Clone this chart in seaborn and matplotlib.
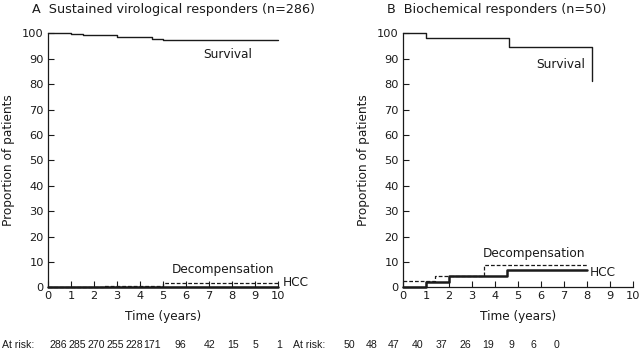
import matplotlib
matplotlib.use("Agg")
import matplotlib.pyplot as plt
import seaborn as sns
import pandas as pd

# ---------------- data ----------------
# Panel A: sustained virological responders
a_surv_t = [0, 1.0, 1.5, 3.0, 4.5, 5.0, 10.0]
a_surv_v = [100, 99.7, 99.2, 98.7, 97.9, 97.2, 97.2]
a_dec_t = [0, 2.4, 5.0, 10.0]
a_dec_v = [0, 0.7, 1.7, 1.7]
a_hcc_t = [0, 10.0]
a_hcc_v = [0, 0]
a_risk = ["286", "285", "270", "255", "228", "171", "96", "42", "15", "5", "1"]

# Panel B: biochemical responders
b_surv_t = [0, 1.0, 4.6, 8.2]
b_surv_v = [100, 98, 94.8, 81.3]
b_dec_t = [0, 1.4, 3.5, 8.0]
b_dec_v = [2.5, 4.6, 8.8, 8.8]
b_hcc_t = [0, 1.0, 2.0, 4.5, 8.0]
b_hcc_v = [0, 2.2, 4.4, 7.0, 7.0]
b_risk = ["50", "48", "47", "40", "37", "26", "19", "9", "6", "0"]

titles = ["A  Sustained virological responders (n=286)",
          "B  Biochemical responders (n=50)"]
xticks = list(range(0, 11))
yticks = list(range(0, 101, 10))

# ---------------- style ----------------
sns.set_theme(style="ticks")
plt.rcParams['font.family'] = ['DejaVu Sans']
FS = 8.2
LC = "#1a1a1a"

W, H = 640, 352
fig = plt.figure(figsize=(W / 100, H / 100), dpi=100)

def px_box(l, r, b, t):
    return [l / W, 1 - b / H, (r - l) / W, (b - t) / H]

axA = fig.add_axes(px_box(48, 278, 287.3, 33.3))
axB = fig.add_axes(px_box(403, 633, 287.3, 33.3))

def draw(ax, surv, dec, hcc):
    ds = pd.DataFrame({"t": surv[0], "v": surv[1]})
    dd = pd.DataFrame({"t": dec[0], "v": dec[1]})
    dh = pd.DataFrame({"t": hcc[0], "v": hcc[1]})
    sns.lineplot(data=dh, x="t", y="v", ax=ax, drawstyle="steps-post",
                 color=LC, lw=1.8, clip_on=False, zorder=4)
    sns.lineplot(data=dd, x="t", y="v", ax=ax, drawstyle="steps-post",
                 color=LC, lw=0.9, ls=(0, (3, 1.6)), clip_on=False, zorder=5)
    sns.lineplot(data=ds, x="t", y="v", ax=ax, drawstyle="steps-post",
                 color=LC, lw=1.0, clip_on=False, zorder=5)
    ax.set_xlim(0, 10)
    ax.set_ylim(0, 100)
    ax.set_xticks(xticks)
    ax.set_yticks(yticks)
    ax.tick_params(direction="in", length=4, width=0.8, colors=LC,
                   labelsize=FS, pad=3, labelcolor=LC)
    sns.despine(ax=ax)
    for s in ("left", "bottom"):
        ax.spines[s].set_linewidth(0.9)
        ax.spines[s].set_color(LC)
    ax.set_xlabel("Time (years)", fontsize=FS + 0.5, color=LC, labelpad=6)
    ax.set_ylabel("Proportion of patients", fontsize=FS + 0.5, color=LC, labelpad=5)

draw(axA, (a_surv_t, a_surv_v), (a_dec_t, a_dec_v), (a_hcc_t, a_hcc_v))
draw(axB, (b_surv_t, b_surv_v), (b_dec_t, b_dec_v), (b_hcc_t, b_hcc_v))

def ftxt(x, y, s, ha="left", va="center", size=FS + 0.5, family=None):
    kw = {} if family is None else {"family": family}
    fig.text(x / W, 1 - y / H, s, ha=ha, va=va, fontsize=size, color=LC, **kw)

# titles
ftxt(32, 10, titles[0], size=FS + 1)
ftxt(387, 10, titles[1], size=FS + 1)

# curve labels
ftxt(203, 54, "Survival")
ftxt(172, 270, "Decompensation")
ftxt(283, 282, "HCC")
ftxt(536, 65, "Survival")
ftxt(483, 253, "Decompensation")
ftxt(590, 273, "HCC")

# at-risk rows (pixel positions of each count)
RS = 7.6
RF = ["Liberation Sans", "DejaVu Sans"]
ftxt(2, 345, "At risk:", size=RS, family=RF)
a_risk_x = [58, 77, 96, 115, 134, 152, 180, 210, 233, 255.5, 279]
for xx, s in zip(a_risk_x, a_risk):
    ftxt(xx, 345, s, ha="center", size=RS, family=RF)

ftxt(293, 345, "At risk:", size=RS, family=RF)
b_risk_x = [349, 372, 394, 418, 441, 465, 488, 511, 533, 557]
for xx, s in zip(b_risk_x, b_risk):
    ftxt(xx, 345, s, ha="center", size=RS, family=RF)

fig.savefig("out.png", dpi=100)
